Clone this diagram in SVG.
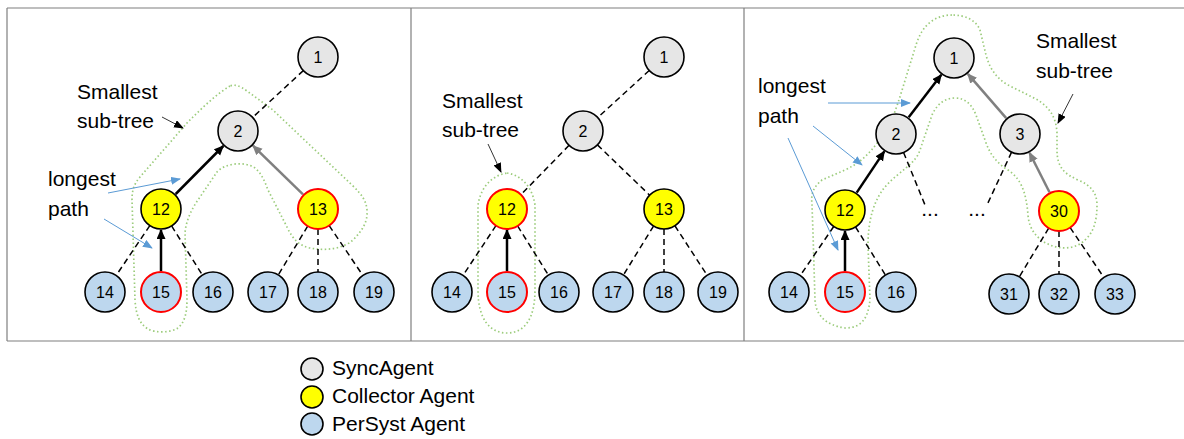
<svg xmlns="http://www.w3.org/2000/svg" width="1184" height="439" viewBox="0 0 1184 439">
<style>
.frame{stroke:#7f7f7f;stroke-width:1.2;fill:none}
.sync{fill:#e6e6e6;stroke:#000;stroke-width:1.6}
.coll{fill:#ffff00;stroke:#000;stroke-width:1.6}
.pers{fill:#bdd7ee;stroke:#000;stroke-width:1.6}
.red{stroke:#ff0000;stroke-width:2}
.dash{stroke:#000;stroke-width:1.5;stroke-dasharray:6 4;fill:none}
.blk{stroke:#000;stroke-width:2.5;fill:none;marker-end:url(#ab)}
.gry{stroke:#808080;stroke-width:2.5;fill:none;marker-end:url(#ag)}
.blue{stroke:#5b9bd5;stroke-width:1;fill:none;marker-end:url(#abl)}
.thin{stroke:#000;stroke-width:0.8;fill:none;marker-end:url(#at)}
.hull{stroke:#9ccc7c;stroke-width:1.7;stroke-dasharray:1.5 2.5;fill:none}
.lbl{font-family:"Liberation Sans",Arial,sans-serif;font-size:16px;text-anchor:middle;fill:#000}
.note{font-family:"Liberation Sans",Arial,sans-serif;font-size:21px;fill:#000}
</style>
<defs>
<marker id="ab" markerUnits="userSpaceOnUse" markerWidth="12" markerHeight="10" refX="9" refY="4.5" orient="auto"><path d="M0,0 L10,4.5 L0,9 z" fill="#000"/></marker>
<marker id="ag" markerUnits="userSpaceOnUse" markerWidth="12" markerHeight="10" refX="9" refY="4.5" orient="auto"><path d="M0,0 L10,4.5 L0,9 z" fill="#808080"/></marker>
<marker id="abl" markerUnits="userSpaceOnUse" markerWidth="12" markerHeight="10" refX="9" refY="4" orient="auto"><path d="M0,0 L10,4 L0,8 z" fill="#5b9bd5"/></marker>
<marker id="at" markerUnits="userSpaceOnUse" markerWidth="12" markerHeight="10" refX="9" refY="4" orient="auto"><path d="M0,0 L10,4 L0,8 z" fill="#000"/></marker>
</defs>

<g id="frames">
<line class="frame" x1="7" y1="8" x2="1184" y2="8"/>
<line class="frame" x1="7" y1="341" x2="1184" y2="341"/>
<line class="frame" x1="7" y1="8" x2="7" y2="341"/>
<line class="frame" x1="411" y1="8" x2="411" y2="341"/>
<line class="frame" x1="744" y1="8" x2="744" y2="341"/>
</g>

<g id="hulls">
<path class="hull" d="M230,86 C215,95 200,110 187,123 L140,177 C134,184 132,190 132,200 L133,233 L135,300 C136,316 140,324 148,329 C155,333 170,333 178,328 C185,322 187,312 187,300 L185,233 C186,220 192,208 200,197 L217,172 C225,163 245,161 255,168 C262,174 265,182 268,190 L287,227 C293,240 300,246 310,248 C325,251 343,249 353,240 C362,231 368,222 367,210 C366,200 362,195 352,185 L273,110 L247,91 C240,86 235,84 230,86 Z"/>
<path class="hull" d="M507,173 C520,175 532,185 535,205 L535,290 C535,318 525,333 507,333 C489,333 478,318 478,290 L478,205 C481,185 494,175 507,173 Z"/>
<path class="hull" d="M952,15 C935,15 922,25 916,45 L903,87 C896,110 890,128 878,142 C868,155 860,163 845,170 L822,180 C812,188 811,195 812,205 L813,233 L815,300 C816,315 825,325 845,328 C862,328 868,318 870,300 L868,245 C868,220 874,200 885,187 C900,170 915,165 920,150 L932,115 C937,104 945,98 955,98 C966,98 972,105 976,115 L985,140 C990,155 997,163 1008,170 C1020,178 1026,190 1028,215 C1029,230 1038,240 1050,245 C1060,249 1075,250 1085,240 C1094,232 1097,220 1097,205 C1097,192 1090,185 1078,180 C1065,174 1057,168 1057,150 L1057,133 C1056,115 1048,107 1038,100 L1010,86 C998,80 990,70 986,55 L980,30 C976,20 965,15 952,15 Z"/>
</g>

<g id="connectors">
<line class="dash" x1="318" y1="57" x2="238" y2="131"/>
<line class="dash" x1="161" y1="209" x2="105" y2="292"/>
<line class="dash" x1="161" y1="209" x2="213" y2="292"/>
<line class="dash" x1="318" y1="209" x2="268" y2="292"/>
<line class="dash" x1="318" y1="209" x2="318" y2="292"/>
<line class="dash" x1="318" y1="209" x2="374" y2="292"/>
<line class="blk" x1="161" y1="271" x2="161" y2="230"/>
<line class="blk" x1="175.7" y1="194" x2="223.3" y2="146"/>
<line class="gry" x1="303" y1="194.3" x2="253" y2="145.7"/>
<line class="thin" x1="162" y1="117" x2="183" y2="128"/>
<line class="blue" x1="108" y1="193" x2="180" y2="179"/>
<line class="blue" x1="104" y1="219" x2="152" y2="248"/>
<line class="dash" x1="664" y1="57" x2="583" y2="131"/>
<line class="dash" x1="583" y1="131" x2="507" y2="209"/>
<line class="dash" x1="583" y1="131" x2="664" y2="209"/>
<line class="dash" x1="507" y1="209" x2="452" y2="292"/>
<line class="dash" x1="507" y1="209" x2="559" y2="292"/>
<line class="dash" x1="664" y1="209" x2="613" y2="292"/>
<line class="dash" x1="664" y1="209" x2="664" y2="292"/>
<line class="dash" x1="664" y1="209" x2="718" y2="292"/>
<line class="blk" x1="507" y1="271" x2="507" y2="230"/>
<line class="thin" x1="488" y1="144" x2="501" y2="172"/>
<line class="dash" x1="845" y1="210" x2="789" y2="292"/>
<line class="dash" x1="845" y1="210" x2="896" y2="292"/>
<line class="dash" x1="1059" y1="211" x2="1009" y2="294"/>
<line class="dash" x1="1059" y1="211" x2="1059" y2="294"/>
<line class="dash" x1="1059" y1="211" x2="1115" y2="294"/>
<line class="dash" x1="896" y1="134" x2="925" y2="205"/>
<line class="dash" x1="1020" y1="134" x2="987" y2="205"/>
<line class="blk" x1="845" y1="271" x2="845" y2="231"/>
<line class="blk" x1="856.7" y1="192.6" x2="884.3" y2="151.4"/>
<line class="blk" x1="908.7" y1="117.3" x2="941.3" y2="74.7"/>
<line class="gry" x1="1049.5" y1="192.3" x2="1029.5" y2="152.7"/>
<line class="gry" x1="1006.2" y1="118.1" x2="967.8" y2="73.9"/>
<line class="thin" x1="1073" y1="94" x2="1058" y2="123"/>
<line class="blue" x1="828" y1="103" x2="910" y2="103"/>
<line class="blue" x1="813" y1="126" x2="862" y2="165"/>
<line class="blue" x1="788" y1="138" x2="838" y2="250"/>
</g>

<g id="p1-n1"><circle class="sync" cx="318" cy="57" r="20"/><text class="lbl" x="318" y="63">1</text></g>
<g id="p1-n2"><circle class="sync" cx="238" cy="131" r="20"/><text class="lbl" x="238" y="137">2</text></g>
<g id="p1-n12"><circle class="coll" cx="161" cy="209" r="20"/><text class="lbl" x="161" y="215">12</text></g>
<g id="p1-n13"><circle class="coll red" cx="318" cy="209" r="20"/><text class="lbl" x="318" y="215">13</text></g>
<g id="p1-n14"><circle class="pers" cx="105" cy="292" r="20"/><text class="lbl" x="105" y="298">14</text></g>
<g id="p1-n15"><circle class="pers red" cx="161" cy="292" r="20"/><text class="lbl" x="161" y="298">15</text></g>
<g id="p1-n16"><circle class="pers" cx="213" cy="292" r="20"/><text class="lbl" x="213" y="298">16</text></g>
<g id="p1-n17"><circle class="pers" cx="268" cy="292" r="20"/><text class="lbl" x="268" y="298">17</text></g>
<g id="p1-n18"><circle class="pers" cx="318" cy="292" r="20"/><text class="lbl" x="318" y="298">18</text></g>
<g id="p1-n19"><circle class="pers" cx="374" cy="292" r="20"/><text class="lbl" x="374" y="298">19</text></g>

<g id="p2-n1"><circle class="sync" cx="664" cy="57" r="20"/><text class="lbl" x="664" y="63">1</text></g>
<g id="p2-n2"><circle class="sync" cx="583" cy="131" r="20"/><text class="lbl" x="583" y="137">2</text></g>
<g id="p2-n12"><circle class="coll red" cx="507" cy="209" r="20"/><text class="lbl" x="507" y="215">12</text></g>
<g id="p2-n13"><circle class="coll" cx="664" cy="209" r="20"/><text class="lbl" x="664" y="215">13</text></g>
<g id="p2-n14"><circle class="pers" cx="452" cy="292" r="20"/><text class="lbl" x="452" y="298">14</text></g>
<g id="p2-n15"><circle class="pers red" cx="507" cy="292" r="20"/><text class="lbl" x="507" y="298">15</text></g>
<g id="p2-n16"><circle class="pers" cx="559" cy="292" r="20"/><text class="lbl" x="559" y="298">16</text></g>
<g id="p2-n17"><circle class="pers" cx="613" cy="292" r="20"/><text class="lbl" x="613" y="298">17</text></g>
<g id="p2-n18"><circle class="pers" cx="664" cy="292" r="20"/><text class="lbl" x="664" y="298">18</text></g>
<g id="p2-n19"><circle class="pers" cx="718" cy="292" r="20"/><text class="lbl" x="718" y="298">19</text></g>

<g id="p3-n1"><circle class="sync" cx="954" cy="58" r="20"/><text class="lbl" x="954" y="64">1</text></g>
<g id="p3-n2"><circle class="sync" cx="896" cy="134" r="20"/><text class="lbl" x="896" y="140">2</text></g>
<g id="p3-n3"><circle class="sync" cx="1020" cy="134" r="20"/><text class="lbl" x="1020" y="140">3</text></g>
<g id="p3-n12"><circle class="coll" cx="845" cy="210" r="20"/><text class="lbl" x="845" y="216">12</text></g>
<g id="p3-n30"><circle class="coll red" cx="1059" cy="211" r="20"/><text class="lbl" x="1059" y="217">30</text></g>
<g id="p3-n14"><circle class="pers" cx="789" cy="292" r="20"/><text class="lbl" x="789" y="298">14</text></g>
<g id="p3-n15"><circle class="pers red" cx="845" cy="292" r="20"/><text class="lbl" x="845" y="298">15</text></g>
<g id="p3-n16"><circle class="pers" cx="896" cy="292" r="20"/><text class="lbl" x="896" y="298">16</text></g>
<g id="p3-n31"><circle class="pers" cx="1009" cy="294" r="20"/><text class="lbl" x="1009" y="300">31</text></g>
<g id="p3-n32"><circle class="pers" cx="1059" cy="294" r="20"/><text class="lbl" x="1059" y="300">32</text></g>
<g id="p3-n33"><circle class="pers" cx="1115" cy="294" r="20"/><text class="lbl" x="1115" y="300">33</text></g>

<g id="annotations">
<text class="note" x="77" y="99">Smallest</text>
<text class="note" x="77" y="128">sub-tree</text>
<text class="note" x="48" y="186">longest</text>
<text class="note" x="48" y="216">path</text>
<text class="note" x="442" y="108">Smallest</text>
<text class="note" x="442" y="137">sub-tree</text>
<text class="note" x="758" y="93">longest</text>
<text class="note" x="758" y="123">path</text>
<text class="note" x="1036" y="48">Smallest</text>
<text class="note" x="1036" y="78">sub-tree</text>
<text class="note" x="930" y="216" text-anchor="middle">...</text>
<text class="note" x="977" y="216" text-anchor="middle">...</text>
</g>

<g id="legend">
<circle class="sync" cx="312" cy="369" r="11"/>
<text class="note" x="332" y="375">SyncAgent</text>
<circle class="coll" cx="312" cy="397" r="11"/>
<text class="note" x="332" y="403">Collector Agent</text>
<circle class="pers" cx="312" cy="424" r="11"/>
<text class="note" x="332" y="431">PerSyst Agent</text>
</g>
</svg>
